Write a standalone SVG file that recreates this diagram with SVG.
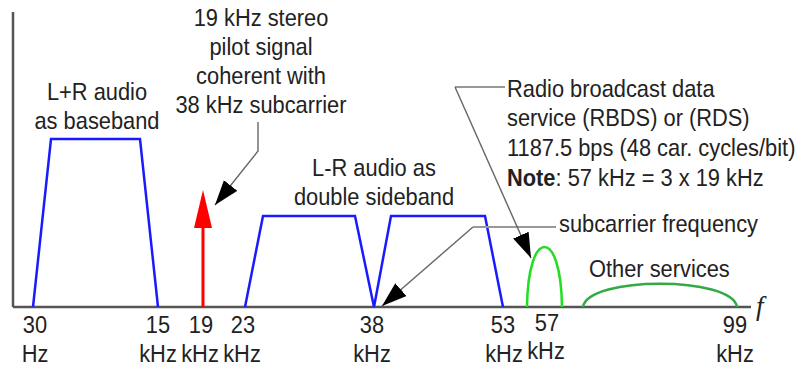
<svg xmlns="http://www.w3.org/2000/svg" width="799" height="370" viewBox="0 0 799 370">
<defs>
<style>
text{font-family:"Liberation Sans",Arial,sans-serif;font-size:24px;fill:#222;}
.c{text-anchor:middle;}
.band{fill:none;stroke:#1a1aff;stroke-width:2.5;stroke-linejoin:miter;}
.lead{fill:none;stroke:#666;stroke-width:1.4;}
.leadh{fill:none;stroke:#999;stroke-width:2;}
.axis{fill:none;stroke:#555;stroke-width:2.5;}
</style>
<marker id="ah" markerUnits="userSpaceOnUse" markerWidth="28" markerHeight="20" refX="25" refY="8.5" orient="auto">
<path d="M0,0 L25,8.5 L0,17 z" fill="#000"/>
</marker>
</defs>
<rect width="799" height="370" fill="#fff"/>

<g id="axes">
<line class="axis" x1="13" y1="12" x2="13" y2="307" stroke-width="2"/>
<line class="axis" x1="13" y1="307" x2="751" y2="307"/>
<text x="756" y="315" style="font-family:'Liberation Serif',serif;font-style:italic;font-size:27px">f</text>
</g>

<g id="lr-plus">
<path class="band" d="M33,307 L51,139 L140,139 L158,307"/>
<text class="c" transform="translate(97,100) scale(0.91,1)">L+R audio</text>
<text class="c" transform="translate(97,129) scale(0.91,1)">as baseband</text>
</g>

<g id="pilot">
<line x1="203" y1="307" x2="203" y2="225" stroke="#ff0000" stroke-width="3"/>
<polygon points="194,228 203,190 212,228" fill="#ff0000"/>
<text class="c" transform="translate(261,26) scale(0.91,1)">19 kHz stereo</text>
<text class="c" transform="translate(261,55) scale(0.91,1)">pilot signal</text>
<text class="c" transform="translate(261,84) scale(0.91,1)">coherent with</text>
<text class="c" transform="translate(261,113) scale(0.91,1)">38 kHz subcarrier</text>
</g>

<g id="lr-minus">
<path class="band" d="M245,307 L263,216 L355,216 L374,307 L391,216 L485,216 L503,307"/>
<text class="c" transform="translate(374,176) scale(0.91,1)">L-R audio as</text>
<text class="c" transform="translate(374,205) scale(0.91,1)">double sideband</text>
</g>

<g id="rds">
<path d="M527,307 C528,227 561,227 562,307" fill="none" stroke="#22dd22" stroke-width="2.5"/>
<text transform="translate(507,97) scale(0.91,1)">Radio broadcast data</text>
<text transform="translate(507,126) scale(0.91,1)">service (RBDS) or (RDS)</text>
<text transform="translate(507,156) scale(0.91,1)">1187.5 bps (48 car. cycles/bit)</text>
<text transform="translate(507,186) scale(0.91,1)"><tspan font-weight="bold">Note</tspan>: 57 kHz = 3 x 19 kHz</text>
</g>

<g id="subcarrier">
<text transform="translate(559,232) scale(0.91,1)">subcarrier frequency</text>
</g>

<g id="other">
<path d="M583,307 C588,276 732,276 737,307" fill="none" stroke="#33aa44" stroke-width="2.5"/>
<text transform="translate(589,277) scale(0.91,1)">Other services</text>
</g>

<g id="connectors">
<path class="lead" d="M258,122 L258,151 L215,205" marker-end="url(#ah)"/>
<line class="leadh" x1="473" y1="227" x2="556" y2="227"/>
<path class="lead" d="M473,227 L382,306" marker-end="url(#ah)"/>
<line class="leadh" x1="455" y1="87" x2="505" y2="87"/>
<path class="lead" d="M455,87 L531,258" marker-end="url(#ah)"/>
</g>

<g id="ticks">
<text class="c" transform="translate(35,333) scale(0.91,1)">30</text>
<text class="c" transform="translate(35,362) scale(0.91,1)">Hz</text>
<text class="c" transform="translate(158,333) scale(0.91,1)">15</text>
<text class="c" transform="translate(158,362) scale(0.91,1)">kHz</text>
<text class="c" transform="translate(201,333) scale(0.91,1)">19</text>
<text class="c" transform="translate(200,362) scale(0.91,1)">kHz</text>
<text class="c" transform="translate(243,333) scale(0.91,1)">23</text>
<text class="c" transform="translate(242,362) scale(0.91,1)">kHz</text>
<text class="c" transform="translate(372,333) scale(0.91,1)">38</text>
<text class="c" transform="translate(372,362) scale(0.91,1)">kHz</text>
<text class="c" transform="translate(503,333) scale(0.91,1)">53</text>
<text class="c" transform="translate(504,362) scale(0.91,1)">kHz</text>
<text class="c" transform="translate(547,331) scale(0.91,1)">57</text>
<text class="c" transform="translate(546,359) scale(0.91,1)">kHz</text>
<text class="c" transform="translate(735,333) scale(0.91,1)">99</text>
<text class="c" transform="translate(735,362) scale(0.91,1)">kHz</text>
</g>
</svg>
